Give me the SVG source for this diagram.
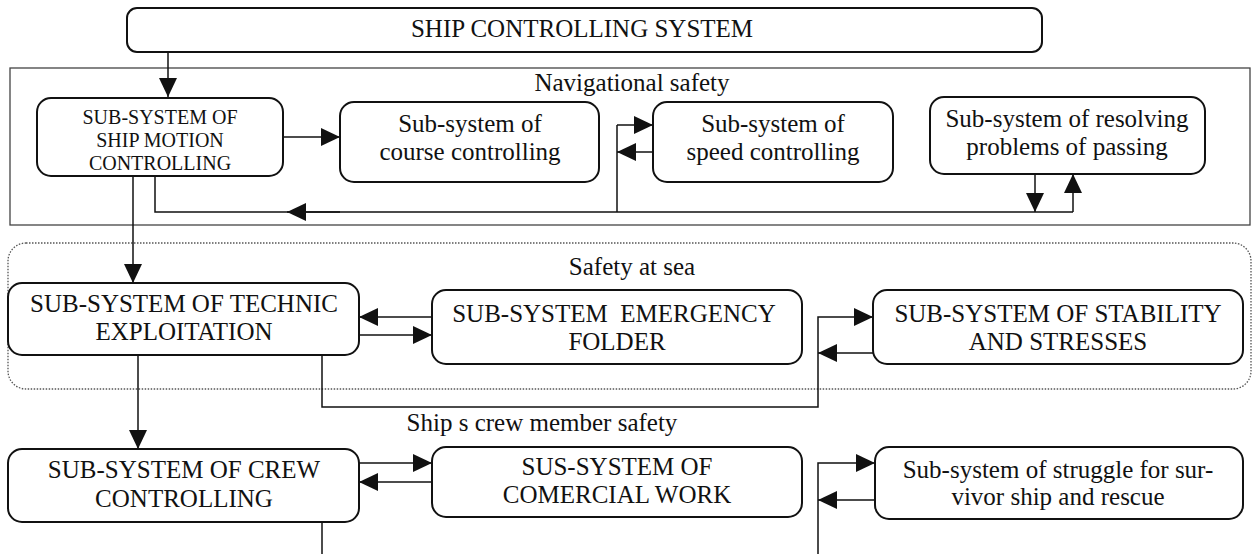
<svg xmlns="http://www.w3.org/2000/svg" width="1253" height="554" viewBox="0 0 1253 554">
<style>
.box{fill:#fff;stroke:#111;stroke-width:2}
.t{font-family:"Liberation Serif","Times New Roman",serif;fill:#111;text-anchor:middle;white-space:pre}
.t25{font-size:25px}
.t20{font-size:20px}
.ln{fill:none;stroke:#111;stroke-width:1.5}
.arr{fill:none;stroke:#111;stroke-width:1.5;marker-end:url(#ah)}
</style>
<defs>
<marker id="ah" markerUnits="userSpaceOnUse" markerWidth="20" markerHeight="18" refX="19" refY="9" orient="auto">
<path d="M0,0 L19,9 L0,18 Z" fill="#111"/>
</marker>
</defs>
<rect x="10" y="68" width="1240" height="157" fill="none" stroke="#444" stroke-width="1.3"/>
<rect x="8" y="243" width="1243" height="146" rx="18" fill="none" stroke="#555" stroke-width="1.3" stroke-dasharray="1.5,1.5"/>
<text class="t t25" x="632" y="91">Navigational safety</text>
<text class="t t25" x="632" y="275">Safety at sea</text>
<text class="t t25" x="542" y="431">Ship s crew member safety</text>
<g id="connectors">
<path class="arr" d="M168,52 L168,97"/>
<path class="arr" d="M283,137 L340,137"/>
<path class="ln" d="M155,176 L155,212 L1073,212"/>
<path class="arr" d="M1073,212 L1073,174"/>
<path class="arr" d="M1035,174 L1035,212"/>
<path class="arr" d="M340,212 L287,212" stroke-width="2.2"/>
<path class="ln" d="M617,212 L617,125"/>
<path class="arr" d="M617,125 L653,125"/>
<path class="arr" d="M653,152 L617,152"/>
<path class="arr" d="M133,176 L133,283"/>
<path class="arr" d="M432,317 L359,317"/>
<path class="arr" d="M359,335 L432,335"/>
<path class="arr" d="M322,355 L322,407 L818,407 L818,317 L873,317"/>
<path class="arr" d="M873,353 L818,353"/>
<path class="arr" d="M138,355 L138,449"/>
<path class="arr" d="M359,463 L432,463"/>
<path class="arr" d="M432,482 L359,482"/>
<path class="ln" d="M322,522 L322,554"/>
<path class="arr" d="M818,554 L818,463 L875,463"/>
<path class="arr" d="M875,500 L818,500"/>
</g>
<g id="ship-controlling-system">
<rect class="box" x="127" y="8" width="915" height="44" rx="10"/>
<text class="t t25" x="582" y="37">SHIP CONTROLLING SYSTEM</text>
</g>
<g id="ship-motion">
<rect class="box" x="37" y="98" width="246" height="78" rx="14"/>
<text class="t t20" x="160" y="124">SUB-SYSTEM OF</text>
<text class="t t20" x="160" y="147">SHIP MOTION</text>
<text class="t t20" x="160" y="170">CONTROLLING</text>
</g>
<g id="course">
<rect class="box" x="340" y="102" width="259" height="80" rx="14"/>
<text class="t t25" x="470" y="132">Sub-system of</text>
<text class="t t25" x="470" y="160">course controlling</text>
</g>
<g id="speed">
<rect class="box" x="653" y="102" width="240" height="80" rx="14"/>
<text class="t t25" x="773" y="132">Sub-system of</text>
<text class="t t25" x="773" y="160">speed controlling</text>
</g>
<g id="resolving">
<rect class="box" x="930" y="97" width="275" height="77" rx="14"/>
<text class="t t25" x="1067" y="127">Sub-system of resolving</text>
<text class="t t25" x="1067" y="155">problems of passing</text>
</g>
<g id="technic">
<rect class="box" x="8" y="283" width="351" height="72" rx="14"/>
<text class="t t25" x="184" y="312">SUB-SYSTEM OF TECHNIC</text>
<text class="t t25" x="184" y="340">EXPLOITATION</text>
</g>
<g id="emergency">
<rect class="box" x="432" y="290" width="370" height="74" rx="14"/>
<text class="t t25" x="614" y="322">SUB-SYSTEM  EMERGENCY</text>
<text class="t t25" x="617" y="350">FOLDER</text>
</g>
<g id="stability">
<rect class="box" x="873" y="290" width="370" height="74" rx="14"/>
<text class="t t25" x="1058" y="322">SUB-SYSTEM OF STABILITY</text>
<text class="t t25" x="1058" y="350">AND STRESSES</text>
</g>
<g id="crew">
<rect class="box" x="8" y="449" width="351" height="73" rx="14"/>
<text class="t t25" x="184" y="478">SUB-SYSTEM OF CREW</text>
<text class="t t25" x="184" y="507">CONTROLLING</text>
</g>
<g id="commercial">
<rect class="box" x="432" y="447" width="370" height="70" rx="14"/>
<text class="t t25" x="617" y="475">SUS-SYSTEM OF</text>
<text class="t t25" x="617" y="503">COMERCIAL WORK</text>
</g>
<g id="survivor">
<rect class="box" x="875" y="447" width="368" height="72" rx="14"/>
<text class="t t25" x="1058" y="478">Sub-system of struggle for sur-</text>
<text class="t t25" x="1058" y="505">vivor ship and rescue</text>
</g>
</svg>
